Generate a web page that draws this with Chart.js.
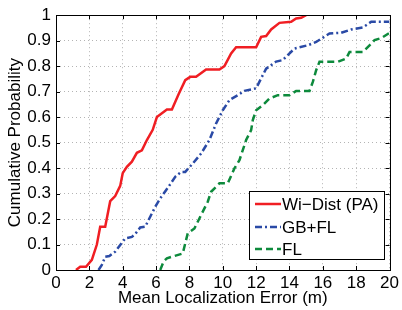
<!DOCTYPE html>
<html>
<head>
<meta charset="utf-8">
<script src="https://cdn.jsdelivr.net/npm/chart.js@4"></script>
<style>
  html, body { margin: 0; padding: 0; background: #fff; }
  #wrap { width: 402px; height: 310px; }
</style>
</head>
<body>
<div id="wrap"><canvas id="cdfChart" width="402" height="310"></canvas></div>
<script>
const seriesNames = ['Wi\u2212Dist (PA)', 'GB+FL', 'FL'];

const wiDistX = [1.2, 1.45, 1.8, 2.15, 2.45, 2.65, 2.95, 3.25, 3.55, 3.85, 4.0, 4.25, 4.55, 4.85, 5.15, 5.45, 5.8, 6.05, 6.65, 6.95, 7.35, 7.75, 8.05, 8.4, 9.0, 9.8, 10.1, 10.5, 10.8, 12.0, 12.3, 12.6, 12.9, 13.4, 14.1, 14.4, 14.7, 15.0];
const wiDistY = [0, 0.013, 0.013, 0.04, 0.1, 0.17, 0.17, 0.27, 0.29, 0.33, 0.38, 0.405, 0.425, 0.46, 0.47, 0.51, 0.55, 0.60, 0.63, 0.63, 0.69, 0.745, 0.758, 0.758, 0.787, 0.787, 0.80, 0.85, 0.874, 0.874, 0.915, 0.918, 0.944, 0.97, 0.974, 0.987, 0.99, 1.0];

const gbflX = [2.55, 2.75, 2.95, 3.2, 3.55, 3.85, 4.15, 4.55, 4.75, 5.05, 5.35, 5.65, 5.95, 6.25, 6.75, 7.15, 7.5, 7.75, 8.2, 8.7, 9.2, 9.6, 10.0, 10.4, 10.9, 11.3, 12.0, 12.3, 12.6, 13.2, 13.6, 13.8, 14.3, 15.1, 15.6, 16.4, 17.1, 17.7, 18.4, 18.9, 20];
const gbflY = [0, 0.02, 0.052, 0.055, 0.072, 0.098, 0.124, 0.13, 0.141, 0.167, 0.17, 0.209, 0.248, 0.281, 0.327, 0.366, 0.385, 0.385, 0.418, 0.457, 0.51, 0.575, 0.627, 0.667, 0.686, 0.703, 0.713, 0.752, 0.79, 0.818, 0.824, 0.837, 0.869, 0.882, 0.895, 0.928, 0.931, 0.944, 0.952, 0.974, 0.974];

const flX = [6.25, 6.45, 6.65, 7.1, 7.6, 7.9, 8.3, 8.7, 9.1, 9.3, 9.8, 10.3, 10.7, 11.0, 11.4, 11.7, 11.8, 12.0, 12.4, 12.8, 13.3, 14.0, 14.4, 15.2, 15.4, 15.6, 15.8, 16.9, 17.4, 17.6, 18.4, 18.8, 19.1, 19.5, 20];
const flY = [0, 0.033, 0.046, 0.055, 0.065, 0.144, 0.163, 0.216, 0.268, 0.307, 0.34, 0.34, 0.399, 0.431, 0.51, 0.549, 0.588, 0.627, 0.647, 0.673, 0.686, 0.686, 0.703, 0.703, 0.738, 0.784, 0.817, 0.817, 0.83, 0.856, 0.856, 0.882, 0.902, 0.91, 0.931];

const xTicks = [0, 2, 4, 6, 8, 10, 12, 14, 16, 18, 20];
const yTicks = [0, 0.1, 0.2, 0.3, 0.4, 0.5, 0.6, 0.7, 0.8, 0.9, 1];

const FONT = "'Liberation Sans', Arial, sans-serif";

function toPoints(xs, ys) {
    return xs.map((x, i) => ({ x: x, y: ys[i] }));
}

// matlab style box, inward ticks and the legend box
const framePlugin = {
    id: 'frame',
    afterDraw(chart) {
        const ctx = chart.ctx;
        const a = chart.chartArea;
        const xs = chart.scales.x;
        const ys = chart.scales.y;
        const tl = 4;
        ctx.save();
        ctx.strokeStyle = '#000';
        ctx.lineWidth = 1;
        ctx.setLineDash([]);
        ctx.beginPath();
        xTicks.forEach(v => {
            const px = Math.round(xs.getPixelForValue(v)) + 0.5;
            ctx.moveTo(px, a.bottom); ctx.lineTo(px, a.bottom - tl);
            ctx.moveTo(px, a.top); ctx.lineTo(px, a.top + tl);
        });
        yTicks.forEach(v => {
            const py = Math.round(ys.getPixelForValue(v)) + 0.5;
            ctx.moveTo(a.left, py); ctx.lineTo(a.left + tl, py);
            ctx.moveTo(a.right, py); ctx.lineTo(a.right - tl, py);
        });
        ctx.stroke();
        ctx.strokeRect(Math.round(a.left) + 0.5, Math.round(a.top) + 0.5,
            Math.round(a.right - a.left), Math.round(a.bottom - a.top));

        // legend
        const bx = 249.5, by = 191.5, bw = 135, bh = 68;
        ctx.fillStyle = '#fff';
        ctx.fillRect(bx, by, bw, bh);
        ctx.strokeRect(bx, by, bw, bh);
        const rows = [204, 227, 249];
        chart.data.datasets.forEach((ds, i) => {
            ctx.strokeStyle = ds.borderColor;
            ctx.lineWidth = ds.borderWidth;
            ctx.setLineDash(ds.borderDash || []);
            ctx.beginPath();
            ctx.moveTo(255, rows[i]);
            ctx.lineTo(281, rows[i]);
            ctx.stroke();
            ctx.setLineDash([]);
            ctx.fillStyle = '#000';
            ctx.font = '17px ' + FONT;
            ctx.textBaseline = 'middle';
            ctx.textAlign = 'left';
            ctx.fillText(ds.label, 282, rows[i] + 1);
        });
        ctx.restore();
    }
};

const ctx = document.getElementById('cdfChart').getContext('2d');

new Chart(ctx, {
    type: 'line',
    data: {
        datasets: [{
            label: seriesNames[0],
            data: toPoints(wiDistX, wiDistY),
            borderColor: '#f01e23',
            borderWidth: 2.5,
            pointRadius: 0,
            tension: 0
        }, {
            label: seriesNames[1],
            data: toPoints(gbflX, gbflY),
            borderColor: '#2a4aa6',
            borderWidth: 2.5,
            borderDash: [7, 3, 2, 3],
            pointRadius: 0,
            tension: 0
        }, {
            label: seriesNames[2],
            data: toPoints(flX, flY),
            borderColor: '#0d8a3c',
            borderWidth: 2.5,
            borderDash: [7, 4],
            pointRadius: 0,
            tension: 0
        }]
    },
    options: {
        responsive: false,
        animation: false,
        layout: {
            padding: { left: 0, right: 12, top: 15, bottom: 0 }
        },
        plugins: {
            legend: { display: false },
            tooltip: { enabled: false }
        },
        scales: {
            x: {
                type: 'linear',
                min: 0,
                max: 20,
                afterFit(scale) { scale.height = 40; },
                afterBuildTicks(scale) { scale.ticks = xTicks.map(v => ({ value: v })); },
                ticks: {
                    font: { family: FONT, size: 17 },
                    color: '#000',
                    padding: 3,
                    maxRotation: 0
                },
                grid: {
                    color: '#b4b4b4',
                    lineWidth: 1,
                    drawTicks: false
                },
                border: { display: false, dash: [1, 3] },
                title: {
                    display: true,
                    text: 'Mean Localization Error (m)',
                    font: { family: FONT, size: 17 },
                    color: '#000',
                    padding: { top: 0, bottom: 1 }
                }
            },
            y: {
                min: 0,
                max: 1,
                afterFit(scale) { scale.width = 56; },
                afterBuildTicks(scale) { scale.ticks = yTicks.map(v => ({ value: v })); },
                ticks: {
                    font: { family: FONT, size: 17 },
                    color: '#000',
                    padding: 5,
                    callback: v => String(Math.round(v * 10) / 10)
                },
                grid: {
                    color: '#b4b4b4',
                    lineWidth: 1,
                    drawTicks: false
                },
                border: { display: false, dash: [1, 3] },
                title: {
                    display: true,
                    text: 'Cumulative Probability',
                    font: { family: FONT, size: 17 },
                    color: '#000',
                    padding: { top: 5, bottom: 0 }
                }
            }
        }
    },
    plugins: [framePlugin]
});
</script>
</body>
</html>
